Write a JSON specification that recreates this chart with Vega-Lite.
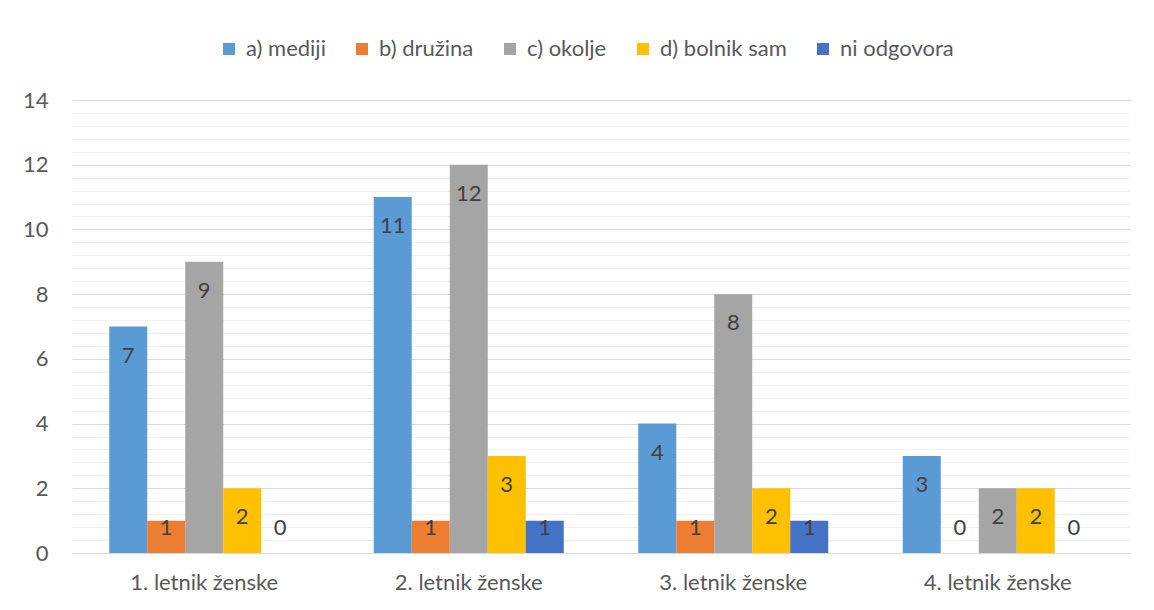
{
  "$schema": "https://vega.github.io/schema/vega-lite/v6.json",
  "width": 1058,
  "height": 453,
  "autosize": {"type": "none"},
  "padding": {"left": 72, "top": 100, "right": 24, "bottom": 57},
  "background": "white",
  "config": {
    "font": "Lato",
    "view": {"stroke": null},
    "axis": {"labelFont": "Lato", "labelFontSize": 22, "labelColor": "#595959"},
    "legend": {"labelFont": "Lato", "labelFontSize": 22, "labelColor": "#595959"}
  },
  "data": {
    "values": [
      {"letnik": "1. letnik ženske", "odgovor": "a) mediji", "st": 7},
      {"letnik": "1. letnik ženske", "odgovor": "b) družina", "st": 1},
      {"letnik": "1. letnik ženske", "odgovor": "c) okolje", "st": 9},
      {"letnik": "1. letnik ženske", "odgovor": "d) bolnik sam", "st": 2},
      {"letnik": "1. letnik ženske", "odgovor": "ni odgovora", "st": 0},
      {"letnik": "2. letnik ženske", "odgovor": "a) mediji", "st": 11},
      {"letnik": "2. letnik ženske", "odgovor": "b) družina", "st": 1},
      {"letnik": "2. letnik ženske", "odgovor": "c) okolje", "st": 12},
      {"letnik": "2. letnik ženske", "odgovor": "d) bolnik sam", "st": 3},
      {"letnik": "2. letnik ženske", "odgovor": "ni odgovora", "st": 1},
      {"letnik": "3. letnik ženske", "odgovor": "a) mediji", "st": 4},
      {"letnik": "3. letnik ženske", "odgovor": "b) družina", "st": 1},
      {"letnik": "3. letnik ženske", "odgovor": "c) okolje", "st": 8},
      {"letnik": "3. letnik ženske", "odgovor": "d) bolnik sam", "st": 2},
      {"letnik": "3. letnik ženske", "odgovor": "ni odgovora", "st": 1},
      {"letnik": "4. letnik ženske", "odgovor": "a) mediji", "st": 3},
      {"letnik": "4. letnik ženske", "odgovor": "b) družina", "st": 0},
      {"letnik": "4. letnik ženske", "odgovor": "c) okolje", "st": 2},
      {"letnik": "4. letnik ženske", "odgovor": "d) bolnik sam", "st": 2},
      {"letnik": "4. letnik ženske", "odgovor": "ni odgovora", "st": 0}
    ]
  },
  "encoding": {
    "x": {
      "field": "letnik", "type": "nominal", "title": null,
      "scale": {"paddingInner": 0.2817, "paddingOuter": 0.1408},
      "axis": {"labelAngle": 0, "domain": true, "domainColor": "#D9D9D9", "domainWidth": 1, "ticks": false, "labelPadding": 19, "grid": false}
    },
    "xOffset": {"field": "odgovor", "type": "nominal", "scale": {"paddingInner": 0, "paddingOuter": 0}}
  },
  "layer": [
    {
      "mark": {"type": "bar"},
      "encoding": {
        "y": {
          "field": "st", "type": "quantitative", "title": null,
          "scale": {"domain": [0, 14], "nice": false},
          "axis": {"orient": "left", "values": [0, 2, 4, 6, 8, 10, 12, 14], "domain": false, "ticks": false, "grid": true, "gridColor": "#D9D9D9", "labelPadding": 24}
        },
        "color": {
          "field": "odgovor", "type": "nominal", "title": null,
          "scale": {
            "domain": ["a) mediji", "b) družina", "c) okolje", "d) bolnik sam", "ni odgovora"],
            "range": ["#5B9BD5", "#ED7D31", "#A5A5A5", "#FFC000", "#4472C4"]
          },
          "legend": {
            "orient": "none", "legendX": 146, "legendY": -62,
            "direction": "horizontal", "columns": 5,
            "symbolType": "square", "symbolSize": 144, "symbolStrokeWidth": 0,
            "labelOffset": 6, "columnPadding": 25
          }
        }
      }
    },
    {
      "transform": [{"filter": "datum.st >= 2"}],
      "mark": {"type": "text", "baseline": "middle", "dy": 29, "fontSize": 22, "color": "#404040", "font": "Lato"},
      "encoding": {
        "y": {
          "field": "st", "type": "quantitative",
          "axis": {"orient": "left", "values": [0.4, 0.8, 1.2, 1.6, 2.4, 2.8, 3.2, 3.6, 4.4, 4.8, 5.2, 5.6, 6.4, 6.8, 7.2, 7.6, 8.4, 8.8, 9.2, 9.6, 10.4, 10.8, 11.2, 11.6, 12.4, 12.8, 13.2, 13.6], "labels": false, "domain": false, "ticks": false, "grid": true, "gridColor": "#F0F0F0", "title": null}
        },
        "text": {"field": "st", "type": "quantitative"}
      }
    },
    {
      "transform": [{"filter": "datum.st == 1"}],
      "mark": {"type": "text", "baseline": "middle", "dy": 7, "fontSize": 22, "color": "#404040", "font": "Lato"},
      "encoding": {
        "y": {"field": "st", "type": "quantitative", "axis": null},
        "text": {"field": "st", "type": "quantitative"}
      }
    },
    {
      "transform": [{"filter": "datum.st == 0"}],
      "mark": {"type": "text", "baseline": "middle", "dy": -25, "fontSize": 22, "color": "#404040", "font": "Lato"},
      "encoding": {
        "y": {"field": "st", "type": "quantitative", "axis": null},
        "text": {"field": "st", "type": "quantitative"}
      }
    }
  ],
  "resolve": {"axis": {"y": "independent"}}
}
